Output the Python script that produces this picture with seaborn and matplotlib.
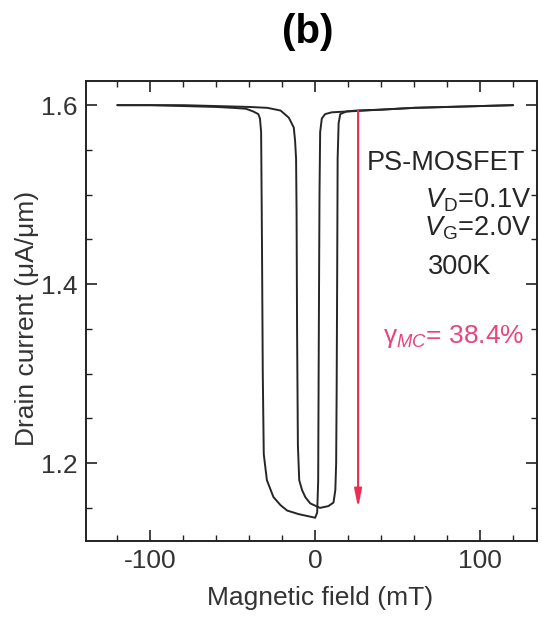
import numpy as np
import pandas as pd
import matplotlib
matplotlib.use("Agg")
import matplotlib.pyplot as plt
from matplotlib.ticker import MultipleLocator
import seaborn as sns

# ---------------- data ----------------
fwd_field = [-120, -100, -80, -60, -50, -42, -37.6, -34.5, -33.5, -32.8, -32.3, -31.8, -31.2,
             -29.3, -27, -25.3, -21, -17, -10, -5, 0, 1.2, 1.8, 2.2, 2.6, 3.0, 4, 6, 10,
             20, 40, 60, 80, 100, 120]
fwd_current = [1.600, 1.600, 1.599, 1.598, 1.597, 1.596, 1.593, 1.590, 1.585, 1.570, 1.450,
               1.300, 1.210, 1.181, 1.170, 1.162, 1.153, 1.147, 1.143, 1.141, 1.139, 1.145,
               1.180, 1.350, 1.500, 1.570, 1.585, 1.590, 1.592, 1.593, 1.595, 1.597, 1.598,
               1.599, 1.600]

bwd_field = [120, 100, 80, 60, 40, 25, 19, 15.2, 14.2, 13.6, 13.3, 13.0, 12.7, 12.2, 11.1,
             8, 2.9, -3, -6, -8, -9.7, -10.5, -11.0, -11.3, -11.6, -12.2, -13, -16, -21,
             -29, -40, -60, -80, -100, -120]
bwd_current = [1.600, 1.599, 1.598, 1.597, 1.595, 1.594, 1.593, 1.590, 1.580, 1.540, 1.400,
               1.280, 1.200, 1.170, 1.156, 1.152, 1.150, 1.155, 1.162, 1.170, 1.181, 1.220,
               1.350, 1.480, 1.540, 1.560, 1.575, 1.586, 1.594, 1.597, 1.598, 1.599, 1.600,
               1.600, 1.600]

arrow_field = 26
arrow_top = 1.594
arrow_bottom = 1.150

x_ticks = [-100, 0, 100]
y_ticks = [1.2, 1.4, 1.6]
y_tick_labels = ["1.2", "1.4", "1.6"]

title = "(b)"
xlabel = "Magnetic field (mT)"
ylabel = "Drain current (μA/μm)"
info_lines = ["PS-MOSFET", r"$V_\mathrm{D}$=0.1V", r"$V_\mathrm{G}$=2.0V", "300K"]
gamma_text = r"γ$_{\mathit{MC}}$= 38.4%"

# ---------------- style ----------------
sns.set_theme(style="ticks")
plt.rcParams["font.family"] = ["Liberation Sans", "DejaVu Sans"]
plt.rcParams["mathtext.fontset"] = "custom"
plt.rcParams["mathtext.rm"] = "Liberation Sans"
plt.rcParams["mathtext.it"] = "Liberation Sans:italic"
plt.rcParams["mathtext.bf"] = "Liberation Sans:bold"
plt.rcParams["axes.unicode_minus"] = False

df = pd.concat([
    pd.DataFrame({"field": fwd_field, "current": fwd_current, "sweep": "up"}),
    pd.DataFrame({"field": bwd_field, "current": bwd_current, "sweep": "down"}),
], ignore_index=True)

fig = plt.figure(figsize=(5.42, 6.17), dpi=100)
ax = fig.add_axes([86 / 542, (617 - 541) / 617, 451 / 542, 460 / 617])

line_col = "#262626"
sns.lineplot(data=df, x="field", y="current", units="sweep", estimator=None, sort=False,
             color=line_col, linewidth=1.4, ax=ax, legend=False)

ax.set_xlim(-139, 134.5)
ax.set_ylim(1.113, 1.627)

ax.set_xticks(x_ticks)
ax.xaxis.set_minor_locator(MultipleLocator(20))
ax.set_yticks(y_ticks)
ax.set_yticklabels(y_tick_labels)
ax.yaxis.set_minor_locator(MultipleLocator(0.05))

text_col = "#333333"
ax.tick_params(which="both", direction="in", top=True, right=True, colors="#222222",
               labelcolor=text_col, labelsize=19, pad=6)
ax.tick_params(which="major", length=8, width=1.2)
ax.tick_params(which="minor", length=4, width=1.0)
for s in ax.spines.values():
    s.set_linewidth(1.4)
    s.set_color("#222222")

ax.set_xlabel(xlabel, fontsize=19, color=text_col)
ax.set_ylabel(ylabel, fontsize=19, color=text_col)
ax.xaxis.label.set_va("center")
ax.yaxis.label.set_va("center")
ax.xaxis.set_label_coords((320 - 86) / 451, (541 - 598) / 460)
ax.yaxis.set_label_coords((27 - 86) / 451, (541 - 318) / 460)

fig.text(308 / 542, 1 - 32 / 617, title, fontsize=29, fontweight="bold",
         ha="center", va="center", color="black")

# red arrow
red = "#ee2d55"
ax.annotate("", xy=(arrow_field, arrow_bottom), xytext=(arrow_field, arrow_top),
            arrowprops=dict(arrowstyle="-|>,head_width=0.18,head_length=0.9",
                            color=red, lw=1.5, shrinkA=0, shrinkB=0))

def ax_pt(px, py):
    return (px - 86) / 451, (541 - py) / 460

info_col = "#262626"
x, y = ax_pt(367, 163)
ax.text(x, y, info_lines[0], transform=ax.transAxes, fontsize=19.5, ha="left", va="center",
        color=info_col)
x, y = ax_pt(531, 200)
ax.text(x, y, info_lines[1], transform=ax.transAxes, fontsize=19.5, ha="right", va="center",
        color=info_col)
x, y = ax_pt(531, 228)
ax.text(x, y, info_lines[2], transform=ax.transAxes, fontsize=19.5, ha="right", va="center",
        color=info_col)
x, y = ax_pt(428, 267)
ax.text(x, y, info_lines[3], transform=ax.transAxes, fontsize=19.5, ha="left", va="center",
        color=info_col)
x, y = ax_pt(383, 337)
ax.text(x, y, gamma_text, transform=ax.transAxes, fontsize=19, ha="left", va="center",
        color="#e8457a")

fig.savefig("out.png", dpi=100)
